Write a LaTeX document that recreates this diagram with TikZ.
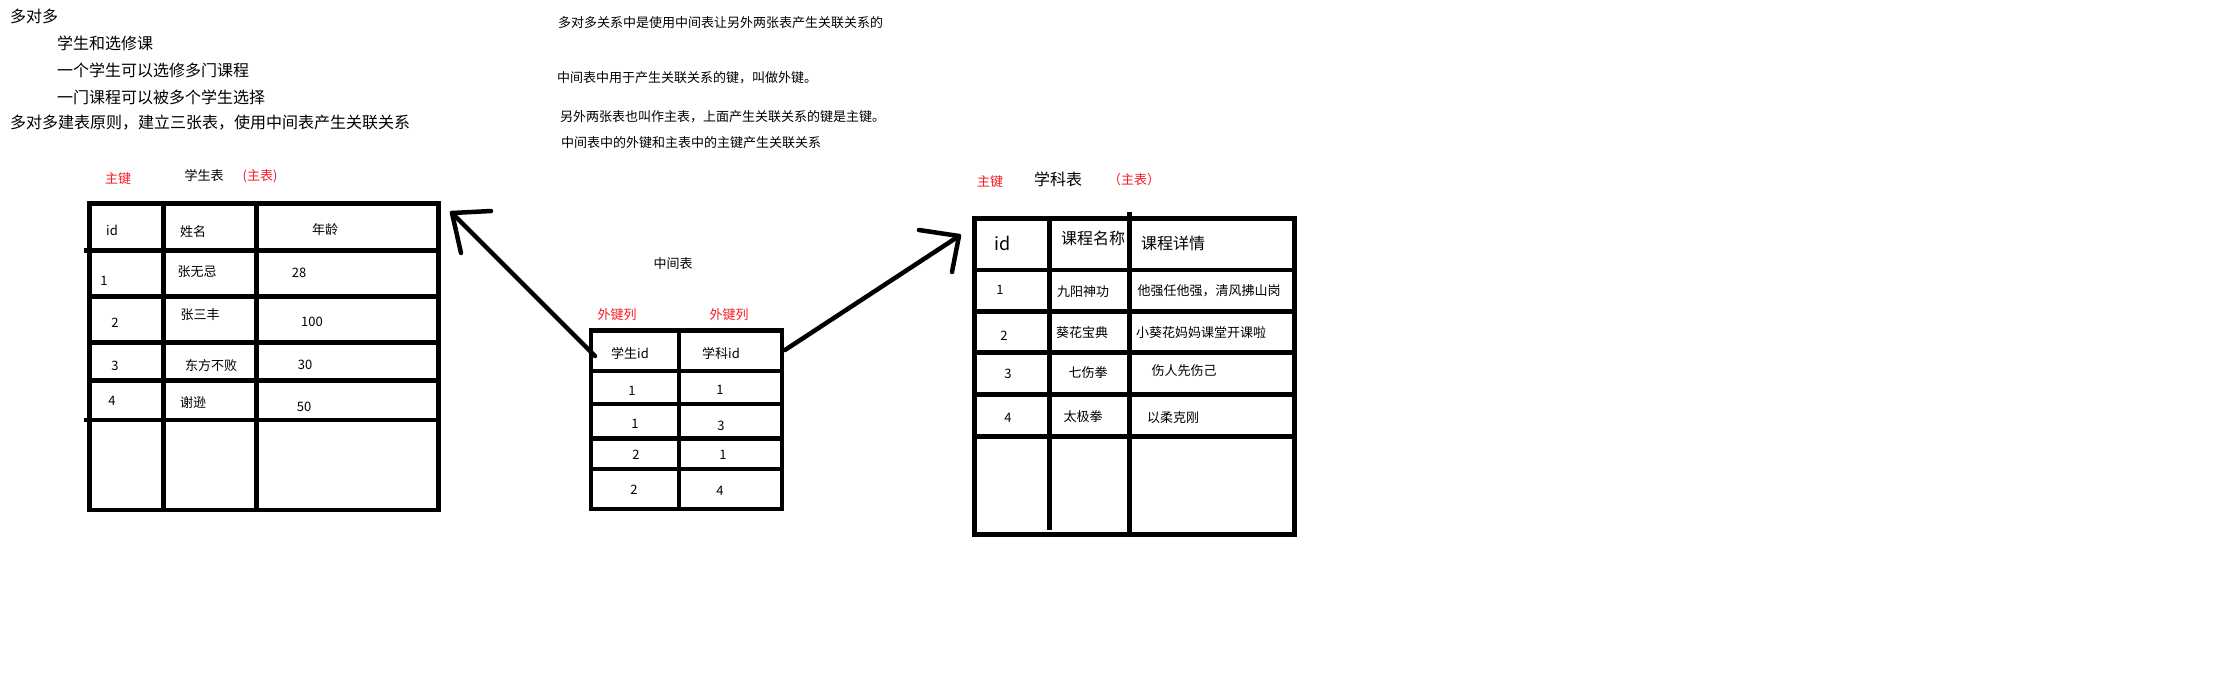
\documentclass[tikz,border=0pt]{standalone}
\usepackage{fontspec}
\setmainfont{Noto Sans CJK SC}
\definecolor{keyred}{RGB}{250,25,35}
\begin{document}
\begin{tikzpicture}[x=1pt,y=-1pt,
        grid/.style={line width=4.5pt,line cap=rect},
        pen/.style={line width=4.5pt,line cap=round,line join=round},
        txt/.style={inner sep=0pt,font=\fontsize{13}{15}\selectfont},
        note/.style={inner sep=0pt,anchor=west,font=\fontsize{16}{19}\selectfont},
        hint/.style={txt,anchor=west},
        head/.style={inner sep=0pt,font=\fontsize{16}{19}\selectfont},
        key/.style={txt,text=keyred}]
        \useasboundingbox[fill=white] (0,0) rectangle (2220,683);

        \node[note] (n1) at (10,16) {多对多};
        \node[note] (n2) at (57,43) {学生和选修课};
        \node[note] (n3) at (57,70) {一个学生可以选修多门课程};
        \node[note] (n4) at (57,97) {一门课程可以被多个学生选择};
        \node[note] (n5) at (10,123) {多对多建表原则，建立三张表，使用中间表产生关联关系};

        \node[hint] (h1) at (558,23) {多对多关系中是使用中间表让另外两张表产生关联关系的};
        \node[hint] (h2) at (557,78) {中间表中用于产生关联关系的键，叫做外键。};
        \node[hint] (h3) at (560,117) {另外两张表也叫作主表，上面产生关联关系的键是主键。};
        \node[hint] (h4) at (561,143) {中间表中的外键和主表中的主键产生关联关系};

        % 学生表
        \node[key] (stu-pk) at (118,179) {主键};
        \node[txt] (stu-title) at (204,175) {学生表};
        \node[key] (stu-main) at (260,176) {(主表)};
        \foreach \y in {203.7,296.3,342.7,380.7,510}
            \draw[grid] (89.3,\y) -- (438.3,\y);
        \draw[grid] (86.5,250.3) -- (438.3,250.3);
        \draw[grid] (86.5,420) -- (436,420);
        \foreach \x in {89.3,163.3,256.3,438.3}
            \draw[grid] (\x,203.7) -- (\x,510);
        \node[txt] (stu-id) at (112,230) {id};
        \node[txt] (stu-name) at (193,232) {姓名};
        \node[txt] (stu-age) at (325,230) {年龄};
        \node[txt] (stu-1) at (104,281) {1};
        \node[txt] (stu-1n) at (197,272) {张无忌};
        \node[txt] (stu-1a) at (299,273) {28};
        \node[txt] (stu-2) at (115,323) {2};
        \node[txt] (stu-2n) at (200,315) {张三丰};
        \node[txt] (stu-2a) at (312,322) {100};
        \node[txt] (stu-3) at (115,366) {3};
        \node[txt] (stu-3n) at (211,366) {东方不败};
        \node[txt] (stu-3a) at (305,365) {30};
        \node[txt] (stu-4) at (112,401) {4};
        \node[txt] (stu-4n) at (193,403) {谢逊};
        \node[txt] (stu-4a) at (304,407) {50};

        % 中间表
        \node[txt] (mid-title) at (673,264) {中间表};
        \node[key] (mid-fk1) at (617,315) {外键列};
        \node[key] (mid-fk2) at (729,315) {外键列};
        \foreach \y in {330.5,371,404,438.7,469,509}
            \draw[grid] (591,\y) -- (782,\y);
        \foreach \x in {591,679,782}
            \draw[grid] (\x,330.5) -- (\x,509);
        \node[txt] (mid-sid) at (630,353) {学生id};
        \node[txt] (mid-cid) at (721,353) {学科id};
        \node[txt] (mid-1s) at (632,391) {1};
        \node[txt] (mid-1c) at (720,390) {1};
        \node[txt] (mid-2s) at (635,424) {1};
        \node[txt] (mid-2c) at (721,426) {3};
        \node[txt] (mid-3s) at (636,455) {2};
        \node[txt] (mid-3c) at (723,455) {1};
        \node[txt] (mid-4s) at (634,490) {2};
        \node[txt] (mid-4c) at (720,491) {4};

        % 学科表
        \node[key] (sub-pk) at (990,182) {主键};
        \node[head] (sub-title) at (1058,179) {学科表};
        \node[key] (sub-main) at (1134,180) {（主表）};
        \foreach \y in {218.5,270,311.7,352.3,394.7,436.7,534.3}
            \draw[grid] (974.5,\y) -- (1294.5,\y);
        \foreach \x in {974.5,1294.5}
            \draw[grid] (\x,218.5) -- (\x,534.3);
        \draw[grid] (1049.5,218.5) -- (1049.5,528);
        \draw[grid] (1129.5,214) -- (1129.5,534.3);
        \node[inner sep=0pt,font=\fontsize{18}{20}\selectfont] (sub-id) at (1003,243) {id};
        \node[head] (sub-name) at (1093,238) {课程名称};
        \node[head] (sub-info) at (1173,243) {课程详情};
        \node[txt] (sub-1) at (1000,290) {1};
        \node[txt] (sub-1n) at (1083,292) {九阳神功};
        \node[txt] (sub-1i) at (1209,291) {他强任他强，清风拂山岗};
        \node[txt] (sub-2) at (1004,336) {2};
        \node[txt] (sub-2n) at (1082,333) {葵花宝典};
        \node[txt] (sub-2i) at (1201,333) {小葵花妈妈课堂开课啦};
        \node[txt] (sub-3) at (1008,374) {3};
        \node[txt] (sub-3n) at (1088,373) {七伤拳};
        \node[txt] (sub-3i) at (1184,371) {伤人先伤己};
        \node[txt] (sub-4) at (1008,418) {4};
        \node[txt] (sub-4n) at (1083,417) {太极拳};
        \node[txt] (sub-4i) at (1173,418) {以柔克刚};

        \coordinate (mid-left) at (595,356);
        \coordinate (mid-right) at (785,350);
        \coordinate (stu-tip) at (452,213);
        \coordinate (sub-tip) at (959,236);

        \draw[pen] (mid-left) -- (stu-tip);
        \draw[pen] (stu-tip) ++(39,-2) -- (stu-tip) -- ++(9,40);
        \draw[pen] (mid-right) -- (sub-tip);
        \draw[pen] (sub-tip) ++(-40,-6) -- (sub-tip) -- ++(-7,36);

    \end{tikzpicture}
\end{document}
